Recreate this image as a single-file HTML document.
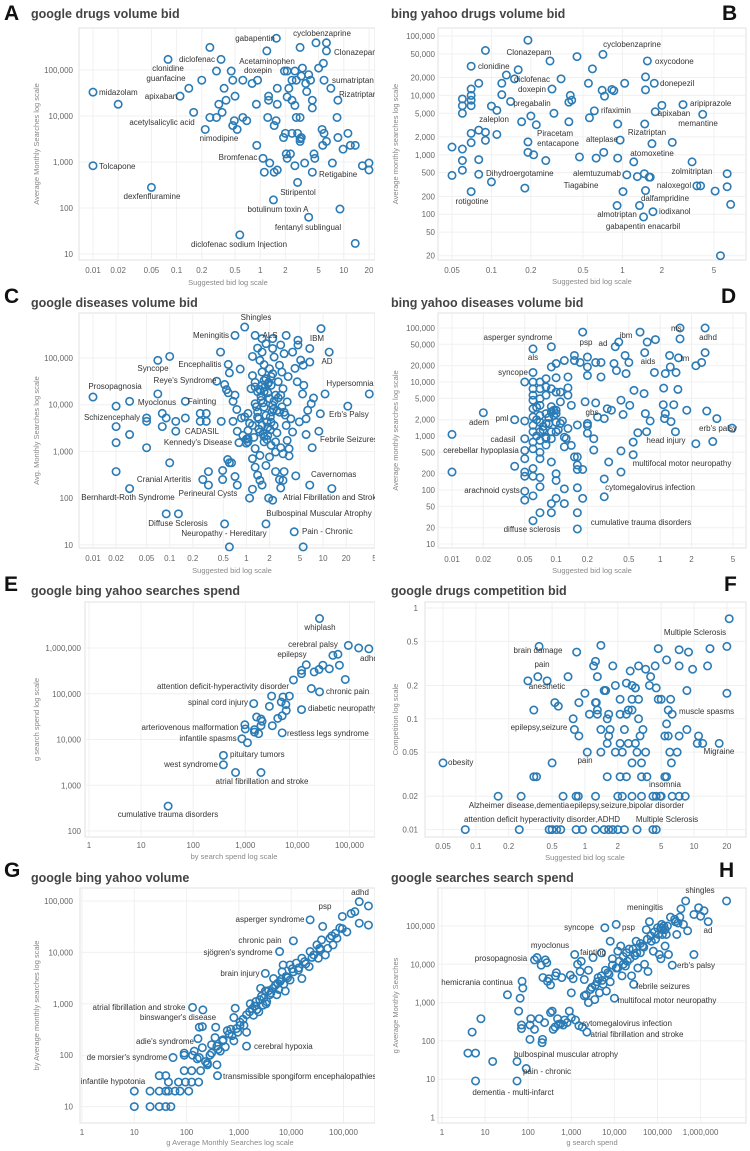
<!DOCTYPE html>
<html><head><meta charset="utf-8">
<style>
html,body{margin:0;padding:0;background:#fff;}
svg{display:block;font-family:"Liberation Sans",Arial,sans-serif;}
.pl{font-weight:bold;font-size:21px;fill:#111;}
.ti{font-weight:bold;font-size:12.5px;fill:#444;}
</style></head>
<body>
<svg id="fig" width="750" height="1151" viewBox="0 0 750 1151">
<defs>
<clipPath id="clipL"><rect x="0" y="0" width="375" height="1151"/></clipPath>
<clipPath id="clipR"><rect x="375" y="0" width="375" height="1151"/></clipPath>
</defs>
<text class="pl" x="4" y="20">A</text>
<text class="ti" x="31" y="18">google drugs volume bid</text>
<text class="pl" x="722" y="20">B</text>
<text class="ti" x="391" y="18">bing yahoo drugs volume bid</text>
<text class="pl" x="4" y="303">C</text>
<text class="ti" x="31" y="307">google diseases volume bid</text>
<text class="pl" x="721" y="303">D</text>
<text class="ti" x="391" y="307">bing yahoo diseases volume bid</text>
<text class="pl" x="4" y="591">E</text>
<text class="ti" x="31" y="595">google bing yahoo searches spend</text>
<text class="pl" x="724" y="591">F</text>
<text class="ti" x="391" y="595">google drugs competition bid</text>
<text class="pl" x="4" y="877">G</text>
<text class="ti" x="31" y="882">google bing yahoo volume</text>
<text class="pl" x="719" y="877">H</text>
<text class="ti" x="391" y="882">google searches search spend</text>
</svg>
<script>
// ---------- Panel A data ----------
const aX=[0.25,0.079,0.34,0.3,0.45,0.2,0.14,0.11,0.02,0.01,0.01,0.05,0.16,0.22,0.25,0.3,0.35,0.32,0.39,0.37,0.5,0.47,0.62,0.47,0.49,0.53,0.62,0.69,0.8,0.93,0.9,0.91,1.2,1.56,1.08,1.3,1.12,1.47,1.6,1.26,1.26,1.6,1.23,1.55,1.47,1.6,1.95,2.1,1.9,2.0,2.05,2.3,2.1,2.1,2.2,2.4,2.6,2.4,2.6,2.7,3.0,2.4,2.8,3.0,3.0,3.1,3.0,2.7,3.2,3.1,3.5,3.6,4.0,3.8,4.2,4.2,4.4,4.5,4.2,3.4,2.8,2.6,1.44,3.8,0.57,4.65,6.2,6.2,5.7,5.0,5.8,7.0,5.5,5.8,6.2,5.6,8.5,8.3,8.5,9.8,11.2,12,13.7,7.3,9.0,13.7,16.7,20,20];
const aY=[310000,170000,170000,95000,95000,60000,40000,27000,18000,33000,830,280,12000,5100,9300,9300,12000,18000,22000,40000,27000,60000,60000,6200,7900,5100,9300,7900,51000,60000,18000,2300,260000,490000,1200,950,600,600,670,27000,22000,40000,9300,7900,6200,18000,95000,95000,3400,4200,1500,1500,1200,26000,40000,60000,95000,22000,17000,9300,9300,4200,4200,3200,2800,3400,310000,60000,110000,74000,51000,34000,60000,79000,22000,15000,1500,1200,600,950,360,830,150,63,26,390000,390000,260000,140000,110000,60000,40000,5100,4200,2800,2300,22000,9300,3400,1900,4200,2300,2300,950,95,17,830,950,670];
const aTicksX=[0.01,0.02,0.05,0.1,0.2,0.5,1,2,5,10,20];
const aTicksY=[10,100,1000,10000,100000];
const aNotes=[["gabapentin",255,38,"m"],["cyclobenzaprine",322,33,"m"],["Clonazepam",334,52,"s"],["diclofenac",197,59,"m"],["Acetaminophen",267,61,"m"],["clonidine",168,68,"m"],["doxepin",258,70,"m"],["guanfacine",166,78,"m"],["sumatriptan",332,80,"s"],["midazolam",99,92,"s"],["apixaban",161,96,"m"],["Rizatriptan",339,94,"s"],["acetylsalicylic acid",162,122,"m"],["nimodipine",219,138,"m"],["Bromfenac",238,157,"m"],["Tolcapone",99,166,"s"],["Retigabine",319,174,"s"],["Stiripentol",298,192,"m"],["dexfenfluramine",152,196,"m"],["botulinum toxin A",278,209,"m"],["fentanyl sublingual",308,227,"m"],["diclofenac sodium Injection",239,244,"m"]];

// ---------- Panel B data ----------
const bX=[0.05,0.05,0.06,0.06,0.06,0.06,0.06,0.06,0.07,0.07,0.07,0.07,0.07,0.07,0.07,0.07,0.08,0.08,0.08,0.08,0.09,0.09,0.09,0.1,0.1,0.11,0.11,0.12,0.12,0.13,0.14,0.15,0.16,0.17,0.18,0.19,0.19,0.19,0.2,0.21,0.22,0.26,0.29,0.28,0.3,0.34,0.39,0.39,0.4,0.41,0.45,0.47,0.55,0.56,0.59,0.61,0.63,0.71,0.7,0.73,0.72,0.83,0.86,0.92,0.92,0.96,0.91,1.01,1.04,1.08,1.22,1.3,1.35,1.45,1.47,1.48,1.5,1.5,1.55,1.6,1.63,1.5,1.71,1.68,1.75,1.78,2.0,2.4,2.9,3.4,3.7,3.95,4.1,5.1,6.3,6.3,6.7,5.6];
const bY=[1350,450,1250,800,550,8700,6700,5000,12800,10000,8300,6700,31000,2300,1600,240,16000,2600,830,470,57000,2400,1750,6600,350,5600,2200,16000,10300,22000,7900,19000,27000,3600,275,85000,1650,1100,4500,1000,3200,800,12800,38000,5000,19000,3600,7700,10000,8300,45000,920,16000,4200,28000,5500,880,49000,12200,9700,1100,12600,12000,3300,880,1770,140,240,16000,460,760,430,140,90,480,3300,12400,20500,38000,420,420,250,110,1540,16000,5300,6800,1620,7000,760,300,300,4800,245,480,290,146,20];
const bTicksX=[0.05,0.1,0.2,0.5,1,2,5];
const bTicksY=[20,50,100,200,500,1000,2000,5000,10000,20000,50000,100000];
const bNotes=[["Clonazepam",529,52,"m"],["cyclobenzaprine",632,44,"m"],["oxycodone",655,61,"s"],["clonidine",478,66,"s"],["diclofenac",532,79,"m"],["doxepin",532,89,"m"],["donepezil",660,83,"s"],["pregabalin",532,103,"m"],["aripiprazole",690,103,"s"],["rifaximin",601,110,"s"],["apixaban",674,113,"m"],["zaleplon",494,119,"m"],["memantine",698,123,"m"],["Piracetam",555,133,"m"],["Rizatriptan",647,132,"m"],["alteplase",602,139,"m"],["entacapone",558,143,"m"],["atomoxetine",652,153,"m"],["Dihydroergotamine",486,173,"s"],["alemtuzumab",597,173,"m"],["zolmitriptan",692,171,"m"],["Tiagabine",581,185,"m"],["naloxegol",674,185,"m"],["dalfampridine",665,198,"m"],["rotigotine",472,201,"m"],["iodixanol",659,211,"s"],["almotriptan",617,214,"m"],["gabapentin enacarbil",643,226,"m"]];

// ---------- Panel C data ----------
const cX=[0.01,0.02,0.02,0.02,0.02,0.03,0.03,0.03,0.05,0.05,0.05,0.07,0.07,0.08,0.08,0.09,0.1,0.1,0.09,0.12,0.12,0.13,0.16,0.16,0.25,0.25,0.3,0.3,0.27,0.32,0.32,0.41,0.46,0.47,0.49,0.49,0.52,0.55,0.58,0.57,0.6,0.64,0.52,0.6,0.58,0.6,0.67,0.67,0.71,0.71,0.76,0.76,0.8,0.71,0.83,0.75,0.86,0.95,1.05,1.05,1.05,1.1,1.0,1.2,1.3,1.2,1.3,1.4,1.5,1.6,1.95,2.2,1.8,1.2,1.4,1.6,1.8,1.5,1.7,1.6,1.8,1.6,1.9,1.7,2.0,1.55,1.7,1.4,1.8,2.1,1.6,1.5,1.9,1.7,2.1,2.4,2.0,2.3,2.7,2.9,2.6,3.0,2.8,3.4,3.1,3.8,3.3,4.0,3.4,3.6,3.0,4.0,3.3,4.7,4.7,5.5,6.7,6.7,9.4,12,4.6,5.6,5.4,4.9,6.0,6.3,7.0,7.5,6.0,7.2,6.7,13,10.6,9.2,8.8,21,40,4.4,3.0,2.7,2.4,3.1,2.8,4.2,5.5,1.2,1.4,1.3,1.4,1.3,1.2,1.05,1.3,1.5,1.8,2.4,2.7,2.2,2.3,2.2,2.4,2.1,2.0,2.2,1.6,2.2,2.8,3.1,1.3,1.5,1.7,1.9,2.1,2.3,2.5,1.35,1.55,1.75,1.95,2.15,1.45,1.65,1.85,2.05,1.25,1.45,1.65,1.85,2.05,2.25,2.6,2.9,3.2,1.1,1.15,1.7,1.9,2.5,0.9,0.95,1.0,3.5,4.3,5.1,2.8,3.6];
const cY=[14600,9300,3400,1540,370,11800,2300,160,5200,4400,1200,89000,17000,6500,3400,5200,108000,570,46,4400,2700,46,5200,11800,6500,4400,6500,4400,250,370,190,31800,134000,4400,390,250,27000,21000,18000,670,570,570,28,9,73000,48000,11800,4400,16000,290,190,2700,1540,305000,58000,7900,5200,460000,6500,2800,1900,100,1830,700,305000,155,460,310,240,190,100,90,28,108000,163000,134000,203000,89000,72000,50000,36000,26000,28000,19000,13500,12400,8900,7000,5900,4200,3600,2600,2200,1600,1350,970,760,105000,70000,50000,31000,22000,16000,11500,6900,5000,3600,2600,1720,1140,890,134000,305000,240000,190000,70000,82000,160000,426000,134000,31000,26000,17000,4300,5000,7600,10500,13900,2300,1200,190,160,17000,6400,2700,9300,17000,300,240,250,370,370,165,19,9,3600,5400,10500,19000,30000,42000,1600,1150,820,500,1600,6900,9700,3600,46000,16000,26000,59000,160000,260000,260000,190000,124000,24000,21000,33000,18000,40000,12000,7500,9000,15000,24000,30000,7000,5000,11000,4300,2900,2000,3000,2400,1800,5500,8000,14000,9000,6000,4000,22000,2100,3300,2500,2200,5500,1500,40000,60000,90000,1200,800];
const cTicksX=[0.01,0.02,0.05,0.1,0.2,0.5,1,2,5,10,20,50];
const cTicksY=[10,100,1000,10000,100000];
const cNotes=[["Shingles",256,317,"m"],["Meningitis",211,335,"m"],["ALS",270,335,"m"],["IBM",317,338,"m"],["AD",327,361,"m"],["Encephalitis",200,364,"m"],["Syncope",153,368,"m"],["Reye's Syndrome",185,380,"m"],["Hypersomnia",350,383,"m"],["Prosopagnosia",115,386,"m"],["Myoclonus",157,402,"m"],["Fainting",202,401,"m"],["Schizencephaly",112,417,"m"],["Erb's Palsy",329,414,"s"],["CADASIL",202,431,"m"],["Kennedy's Disease",198,442,"m"],["Febrile Seizures",320,439,"s"],["Cavernomas",311,474,"s"],["Cranial Arteritis",164,479,"m"],["Perineural Cysts",208,493,"m"],["Bernhardt-Roth Syndrome",128,497,"m"],["Atrial Fibrillation and Stroke",283,497,"s"],["Bulbospinal Muscular Atrophy",319,513,"m"],["Diffuse Sclerosis",178,523,"m"],["Neuropathy - Hereditary",224,533,"m"],["Pain - Chronic",302,531,"s"]];

// ---------- Panel D data ----------
const dX=[0.01,0.01,0.02,0.04,0.04,0.05,0.05,0.05,0.05,0.05,0.05,0.05,0.05,0.05,0.06,0.06,0.06,0.06,0.06,0.06,0.06,0.06,0.06,0.06,0.06,0.06,0.06,0.06,0.06,0.06,0.07,0.07,0.07,0.07,0.07,0.07,0.07,0.07,0.07,0.07,0.07,0.07,0.07,0.08,0.08,0.08,0.08,0.08,0.08,0.08,0.09,0.09,0.09,0.09,0.09,0.09,0.09,0.09,0.09,0.09,0.1,0.1,0.1,0.1,0.1,0.1,0.1,0.1,0.1,0.1,0.11,0.11,0.11,0.12,0.12,0.12,0.12,0.12,0.13,0.13,0.13,0.13,0.14,0.15,0.15,0.14,0.15,0.16,0.16,0.16,0.16,0.16,0.16,0.16,0.17,0.18,0.18,0.18,0.19,0.2,0.2,0.2,0.2,0.2,0.2,0.23,0.23,0.24,0.24,0.25,0.27,0.27,0.29,0.29,0.29,0.31,0.32,0.34,0.36,0.38,0.4,0.37,0.42,0.42,0.42,0.44,0.46,0.47,0.5,0.51,0.55,0.55,0.56,0.61,0.64,0.7,0.71,0.72,0.74,0.75,0.8,0.88,0.9,1.07,1.08,1.1,1.12,1.12,1.23,1.25,1.27,1.35,1.4,1.42,1.48,1.5,1.55,1.55,1.8,2.2,2.2,2.5,2.7,2.7,2.8,3.2,3.5,4.9,0.065,0.075,0.085,0.095,0.065,0.075,0.085,0.095,0.105,0.115,0.125,0.065,0.08,0.1];
const dY=[1070,215,2700,2000,275,1900,890,540,380,215,180,95,65,10000,41000,15000,10000,7500,5700,4600,3200,2250,1580,1200,770,580,250,180,78,27,10000,7500,4900,3700,2400,1800,1200,830,500,380,170,115,38,11500,8100,5700,2600,1700,950,680,7500,45000,3500,2800,1200,890,330,56,38,19000,12000,6500,3000,2600,1800,1200,200,150,70,22000,6500,4300,1700,950,630,105,56,25000,12400,7800,1380,5700,3700,31000,410,670,25000,1600,410,290,110,38,19,240,23000,240,70,84000,4300,13200,19000,29000,1700,1130,1550,890,550,23000,4100,2250,12400,23000,160,75,2100,3200,330,3000,22000,16300,55000,45000,215,530,4600,2500,31000,14300,23000,3700,770,450,7000,1150,84000,6100,35000,2600,1200,55000,1900,15000,61000,3800,7700,2100,2600,14300,31000,19000,1850,3800,1200,15000,7300,28000,63000,100000,3000,20000,720,23000,100000,35000,2900,790,2100,1400,1000,1300,2200,3000,2000,1500,1700,2400,1300,1900,900,3400,900];
const dTicksX=[0.01,0.02,0.05,0.1,0.2,0.5,1,2,5];
const dTicksY=[10,20,50,100,200,500,1000,2000,5000,10000,20000,50000,100000];
const dNotes=[["ms",671,328,"s"],["adhd",708,337,"m"],["asperger syndrome",518,337,"m"],["psp",586,342,"m"],["ad",603,343,"m"],["ibm",626,335,"m"],["als",533,357,"m"],["aids",648,361,"m"],["tm",685,358,"m"],["syncope",513,372,"m"],["gbs",592,412,"m"],["adem",479,422,"m"],["pml",502,418,"m"],["erb's palsy",718,428,"m"],["cadasil",503,439,"m"],["head injury",666,440,"m"],["cerebellar hypoplasia",481,450,"m"],["multifocal motor neuropathy",682,463,"m"],["arachnoid cysts",492,490,"m"],["cytomegalovirus infection",650,487,"m"],["cumulative trauma disorders",641,522,"m"],["diffuse sclerosis",532,529,"m"]];

// ---------- Panel E data ----------
const eX=[26600,95000,150000,235000,48000,60000,14800,30800,41000,64000,21000,26000,12000,12000,8400,83000,18500,26600,7000,5300,3200,2900,6000,6100,5100,4200,12000,4900,1450,1650,2000,2100,2000,980,1000,1500,1800,1500,3300,5100,860,1100,380,380,650,2000,33];
const eY=[4400000,1140000,1000000,960000,690000,730000,430000,420000,350000,420000,300000,340000,325000,275000,200000,205000,130000,110000,89000,85000,89000,53000,58000,43000,33000,29000,45000,66000,61000,31000,28000,25000,20000,21000,17000,14500,13400,16400,20000,14000,10400,8500,4500,2800,1900,1900,350];
const eTicksX=[1,10,100,1000,10000,100000];
const eTicksY=[100,1000,10000,100000,1000000];
const eNotes=[["whiplash",320,627,"m"],["cerebral palsy",313,644,"m"],["epilepsy",292,654,"m"],["adhd",360,658,"s"],["attention deficit-hyperactivity disorder",223,686,"m"],["chronic pain",326,691,"s"],["spinal cord injury",218,702,"m"],["diabetic neuropathy",308,708,"s"],["arteriovenous malformation",190,727,"m"],["restless legs syndrome",287,733,"s"],["infantile spasms",208,738,"m"],["pituitary tumors",230,754,"s"],["west syndrome",191,764,"m"],["atrial fibrillation and stroke",262,781,"m"],["cumulative trauma disorders",168,814,"m"]];

// ---------- Panel F data ----------
const fX=[0.05,0.08,0.25,0.16,0.26,0.47,0.5,0.55,0.6,0.83,0.95,1.25,1.5,1.65,1.8,2.0,2.3,3.0,4.2,4.5,0.63,0.83,0.87,1.25,2.0,2.2,2.7,3.3,4.2,4.5,4.9,5.0,6.3,7.3,8.3,0.34,0.36,1.6,2.1,2.4,3.3,3.7,5.4,5.6,0.5,2.7,3.3,6.2,1.05,1.4,1.9,2.2,3.0,3.6,6.0,7.0,1.6,2.1,2.5,2.9,10.7,12,17,0.88,1.65,3.2,5.4,5.8,7.3,11,0.8,1.4,1.7,2.3,3.4,8.6,5.6,0.78,1.6,3.1,1.1,1.3,1.65,2.1,2.4,6.3,0.34,1.3,2.5,2.7,5.8,0.53,0.57,0.88,1.25,1.27,2.1,2.7,3.1,4.7,5.0,6.1,1.0,1.5,1.55,2.9,4.5,8.6,20,0.3,0.37,0.45,0.7,1.9,2.4,2.7,2.9,3.9,4.0,2.6,3.1,1.8,1.2,1.25,1.3,3.6,4.4,5.6,7.3,9.7,13.3,4.7,7.3,8.9,14,20,21,1.4,0.84,0.38];
const fY=[0.04,0.01,0.01,0.02,0.02,0.01,0.01,0.01,0.01,0.01,0.01,0.01,0.01,0.01,0.01,0.01,0.01,0.01,0.01,0.01,0.02,0.02,0.02,0.02,0.02,0.02,0.02,0.02,0.02,0.02,0.02,0.02,0.02,0.02,0.02,0.03,0.03,0.03,0.03,0.03,0.03,0.03,0.03,0.03,0.04,0.04,0.04,0.04,0.05,0.05,0.05,0.05,0.05,0.05,0.05,0.05,0.06,0.06,0.06,0.06,0.06,0.06,0.06,0.07,0.07,0.07,0.07,0.07,0.07,0.07,0.08,0.08,0.08,0.08,0.08,0.08,0.09,0.1,0.1,0.1,0.11,0.11,0.11,0.11,0.11,0.11,0.12,0.12,0.12,0.12,0.12,0.14,0.13,0.14,0.14,0.14,0.15,0.15,0.15,0.15,0.15,0.15,0.17,0.18,0.18,0.19,0.19,0.18,0.17,0.22,0.24,0.22,0.24,0.2,0.21,0.2,0.19,0.2,0.24,0.27,0.3,0.3,0.3,0.33,0.24,0.28,0.3,0.34,0.3,0.28,0.3,0.43,0.42,0.4,0.43,0.45,0.8,0.46,0.4,0.45];
const fTicksX=[0.05,0.1,0.2,0.5,1,2,5,10,20];
const fTicksY=[0.01,0.02,0.05,0.1,0.2,0.5,1];
const fNotes=[["Multiple Sclerosis",695,632,"m"],["brain damage",538,650,"m"],["pain",542,664,"m"],["anesthetic",547,686,"m"],["muscle spasms",679,711,"s"],["epilepsy,seizure",539,727,"m"],["Migraine",719,751,"m"],["obesity",448,762,"s"],["pain",585,760,"m"],["insomnia",665,784,"m"],["Alzheimer disease,dementia",519,805,"m"],["epilepsy,seizure,bipolar disorder",627,805,"m"],["attention deficit hyperactivity disorder,ADHD",542,819,"m"],["Multiple Sclerosis",667,819,"m"]];

// ---------- Panel G data ----------
const gX=[10,20,30,40,50,10,20,30,40,45,60,75,110,30,40,45,70,95,125,170,90,125,185,250,380,175,55,90,130,200,140,300,380,350,490,550,740,700,950,1250,1050,1400,1800,2100,2700,3400,3200,4100,5000,6100,7700,8000,9500,11000,13700,16000,18000,22000,27000,33000,36000,45000,50000,63000,75000,95000,116000,140000,165000,200000,200000,300000,300000,95000,40000,7000,23000,11000,6000,3200,2600,130,205,175,200,360,800,165,90,160,390,1400,1650,2200,1900,2900,3900,5300,4600,6700,9500,12500,16000,23000,31000,38000,55000,70000,800,440,280,230,600,1050,1400,850,1200,1600,2000,2500,3000,3700,4500,5500,6500,8500,10500,14000,19000,25000,35000,60000,85000,500,650,900,300,400,250,2400,3300,5800,7200];
const gY=[10,10,10,10,10,20,20,20,20,20,20,20,20,40,40,30,30,30,30,30,50,50,50,65,65,90,90,110,100,140,120,160,150,220,190,145,240,320,280,380,440,610,800,1100,1400,1100,1770,1630,2300,2700,1770,3400,2900,4200,4500,3100,6600,5300,8900,7700,11200,8900,12000,14000,18800,29000,25000,57000,62000,37000,97000,80000,34000,50000,32000,5700,43000,16800,10400,3900,2000,850,760,350,360,350,540,210,100,85,40,150,1000,770,600,940,1500,1500,3100,4200,5700,6200,7700,10400,14000,17500,18800,23500,190,120,100,75,300,380,280,820,500,700,900,1200,1300,1800,2000,2500,3000,3200,4800,5000,6000,8000,12000,21000,30000,200,260,330,110,130,70,700,1000,1900,2400];
const gTicksX=[1,10,100,1000,10000,100000];
const gTicksY=[10,100,1000,10000,100000];
const gNotes=[["adhd",360,892,"m"],["psp",325,906,"m"],["asperger syndrome",270,919,"m"],["chronic pain",260,940,"m"],["sjögren's syndrome",238,952,"m"],["brain injury",240,973,"m"],["atrial fibrillation and stroke",139,1007,"m"],["binswanger's disease",178,1017,"m"],["adie's syndrome",165,1041,"m"],["cerebral hypoxia",254,1046,"s"],["de morsier's syndrome",127,1057,"m"],["transmissible spongiform encephalopathies",223,1076,"s"],["infantile hypotonia",113,1081,"m"]];

// ---------- Panel H data ----------
const hX=[5,4,6,8,6,15,33,55,55,60,65,70,70,72,75,90,110,115,110,140,140,160,180,200,210,215,220,240,250,270,280,300,330,330,360,380,420,430,450,480,500,560,600,650,700,800,900,950,1000,1100,1200,1250,1500,1400,1600,1700,1800,2000,2200,2300,2500,3000,3500,4000,4500,5000,5500,6000,6500,7000,8000,9000,10000,11000,12000,12000,14000,15000,16000,18000,20000,22000,25000,28000,30000,32000,35000,40000,45000,50000,55000,60000,65000,70000,80000,90000,100000,110000,120000,130000,140000,150000,160000,180000,200000,220000,250000,280000,300000,350000,400000,450000,500000,700000,700000,900000,1000000,1200000,1500000,4000000,1000,2500,3200,5000,8000,120000,130000,2000,2800,3600,4200,5200,6200,7500,9000,11000,13000,16000,19000,23000,27000,33000,40000,48000,58000,72000,85000,105000,125000,150000,170000,260000,330000];
const hY=[170,48,48,380,9,29,1600,29,9,600,1300,260,210,3600,2400,19,110,380,260,13000,200,15000,380,9500,90,110,4500,300,13000,11000,3600,4200,2900,550,600,200,230,5000,6000,380,270,280,4500,260,350,300,600,5200,400,4200,18000,350,250,10000,6500,12000,230,4000,1600,170,1000,2500,1200,3500,1800,5000,3000,90000,2000,6000,3500,14000,1300,110000,22000,8000,30000,5000,16000,9000,12000,25000,5000,3000,17000,40000,8000,20000,30000,10000,80000,6500,130000,55000,22000,45000,90000,18000,14000,60000,100000,30000,60000,18000,170000,9500,150000,60000,120000,280000,110000,450000,75000,18000,200000,300000,180000,250000,130000,450000,1800,7000,15000,20000,40000,90000,80000,1500,2200,2800,4500,3800,7000,5500,9500,8000,12000,10000,20000,14000,25000,20000,35000,28000,45000,40000,70000,60000,110000,80000,100000,130000,170000];
const hTicksX=[1,10,100,1000,10000,100000,1000000];
const hTicksY=[1,10,100,1000,10000,100000];
const hNotes=[["shingles",700,890,"m"],["meningitis",645,907,"m"],["syncope",579,927,"m"],["psp",622,927,"s"],["ad",708,930,"m"],["myoclonus",550,945,"m"],["fainting",593,952,"m"],["prosopagnosia",501,958,"m"],["erb's palsy",677,965,"s"],["hemicrania continua",477,982,"m"],["febrile seizures",663,986,"m"],["multifocal motor neuropathy",667,1000,"m"],["cytomegalovirus infection",627,1023,"m"],["atrial fibrillation and stroke",637,1034,"m"],["bulbospinal muscular atrophy",566,1054,"m"],["pain - chronic",547,1071,"m"],["dementia - multi-infarct",513,1092,"m"]];

const NS="http://www.w3.org/2000/svg";
const fig=document.getElementById("fig");
function mk(tag,attrs,parent){const e=document.createElementNS(NS,tag);for(const k in attrs)e.setAttribute(k,attrs[k]);parent.appendChild(e);return e;}
function fmt(v){if(v>=1000)return v.toLocaleString("en-US");return String(v);}

const panels=[
 {id:"a",xs:aX,ys:aY,tx:aTicksX,ty:aTicksY,notes:aNotes,clip:"clipL",L:79,R:375,T:28,B:260,x0v:0.01,x0p:93,xd:83.6,y0v:100000,y0p:70,yd:46,tickY:273,yTickR:73,xTitle:"Suggested bid log scale",xTitleY:285,xTitleX:228,yTitle:"Average Monthly Searches log scale",yTitleX:39},
 {id:"b",xs:bX,ys:bY,tx:bTicksX,ty:bTicksY,notes:bNotes,clip:"clipR",L:438,R:746,T:28,B:260,x0v:0.05,x0p:452,xd:131,y0v:100000,y0p:36,yd:59.4,tickY:273,yTickR:435,xTitle:"Suggested bid log scale",xTitleY:284,xTitleX:592,yTitle:"Average monthly searches log scale",yTitleX:398},
 {id:"c",xs:cX,ys:cY,tx:cTicksX,ty:cTicksY,notes:cNotes,clip:"clipL",L:79,R:375,T:313,B:548,x0v:0.01,x0p:93,xd:76.7,y0v:100000,y0p:358,yd:46.7,tickY:561,yTickR:73,xTitle:"Suggested bid log scale",xTitleY:573,xTitleX:232,yTitle:"Avg. Monthly Searches log scale",yTitleX:39},
 {id:"d",xs:dX,ys:dY,tx:dTicksX,ty:dTicksY,notes:dNotes,clip:"clipR",L:438,R:746,T:313,B:548,x0v:0.01,x0p:452,xd:104.1,y0v:100000,y0p:328,yd:54,tickY:562,yTickR:435,xTitle:"Suggested bid log scale",xTitleY:573,xTitleX:592,yTitle:"Average monthly searches log scale",yTitleX:398},
 {id:"e",xs:eX,ys:eY,tx:eTicksX,ty:eTicksY,notes:eNotes,clip:"clipL",L:85,R:375,T:602,B:837,x0v:1,x0p:89,xd:52.1,y0v:1000000,y0p:648,yd:45.75,tickY:848,yTickR:81,xTitle:"by search spend log scale",xTitleY:859,xTitleX:234,yTitle:"g search spend log scale",yTitleX:39},
 {id:"f",xs:fX,ys:fY,tx:fTicksX,ty:fTicksY,notes:fNotes,clip:"clipR",L:425,R:746,T:602,B:837,x0v:0.05,x0p:443,xd:109.1,y0v:1,y0p:608,yd:110.8,tickY:849,yTickR:418,xTitle:"Suggested bid log scale",xTitleY:860,xTitleX:585,yTitle:"Competition log scale",yTitleX:398},
 {id:"g",xs:gX,ys:gY,tx:gTicksX,ty:gTicksY,notes:gNotes,clip:"clipL",L:80,R:375,T:888,B:1123,x0v:1,x0p:82,xd:52.3,y0v:100000,y0p:901,yd:51.4,tickY:1135,yTickR:73,xTitle:"g Average Monthly Searches log scale",xTitleY:1145,xTitleX:230,yTitle:"by Average monthly searches log scale",yTitleX:39},
 {id:"h",xs:hX,ys:hY,tx:hTicksX,ty:hTicksY,notes:hNotes,clip:"clipR",L:438,R:746,T:888,B:1123,x0v:1,x0p:442,xd:43.1,y0v:100000,y0p:926,yd:38.3,tickY:1135,yTickR:435,xTitle:"g search spend",xTitleY:1145,xTitleX:592,yTitle:"g Average Monthly Searches",yTitleX:398}
];

panels.forEach(p=>{
  const sx=v=>p.x0p+p.xd*Math.log10(v/p.x0v);
  const sy=v=>p.y0p-p.yd*Math.log10(v/p.y0v);
  const g=mk("g",{"clip-path":"url(#"+p.clip+")"},fig);
  
  
  const fr=mk("rect",{x:p.L,y:p.T,width:p.R-p.L,height:p.B-p.T,fill:"#fff",stroke:"#e2e2e2","stroke-width":1},g);
  
  
  p.tx.forEach(t=>{
    const x=sx(t);
    const gl=mk("line",{x1:x,x2:x,y1:p.T,y2:p.B,stroke:"#f0f0f0","stroke-width":1},g);
    
    
    const tl=mk("text",{x:x,y:p.tickY,"text-anchor":"middle","font-size":"8","fill":"#666"},g);
    tl.textContent=fmt(t);
    
    
  });
  p.ty.forEach(t=>{
    const y=sy(t);
    const gl=mk("line",{x1:p.L,x2:p.R,y1:y,y2:y,stroke:"#f0f0f0","stroke-width":1},g);
    
    
    const tl=mk("text",{x:p.yTickR,y:y+3,"text-anchor":"end","font-size":"8","fill":"#666"},g);
    tl.textContent=fmt(t);
    
    
  });
  const xt=mk("text",{x:p.xTitleX,y:p.xTitleY,"text-anchor":"middle","font-size":"7.5","fill":"#888"},g);
  xt.textContent=p.xTitle;
  
  
  const cy=(p.T+p.B)/2;
  const yt=mk("text",{x:p.yTitleX,y:cy,"text-anchor":"middle","font-size":"7.5","fill":"#888",transform:"rotate(-90 "+p.yTitleX+" "+cy+")"},g);
  yt.textContent=p.yTitle;
  
  
  const n=Math.min(p.xs.length,p.ys.length);
  for(let i=0;i<n;i++){
    const c=mk("circle",{cx:sx(p.xs[i]),cy:sy(p.ys[i]),r:3.7,fill:"none",stroke:"#2b7bb5","stroke-width":1.6},g);
    
    
  }
  p.notes.forEach(nt=>{
    const t=mk("text",{x:nt[1],y:nt[2]+3,"text-anchor":nt[3]==="s"?"start":"middle","font-size":"8","fill":"#333"},g);
    t.textContent=nt[0];
    
    
  });
});
</script>
</body></html>
